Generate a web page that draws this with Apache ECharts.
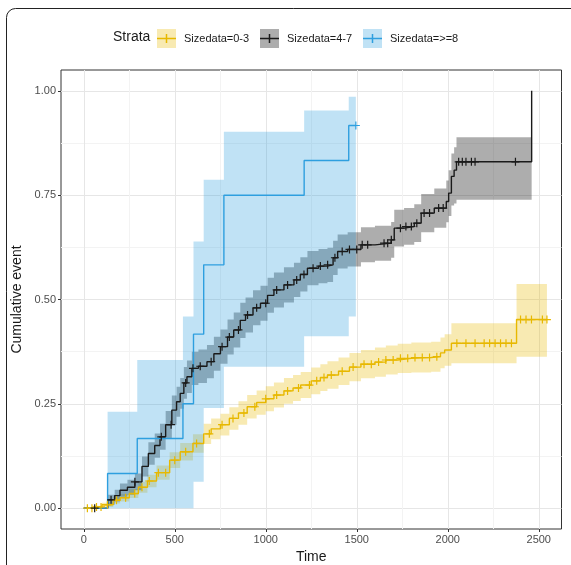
<!DOCTYPE html>
<html>
<head>
<meta charset="utf-8">
<script src="https://cdn.jsdelivr.net/npm/echarts@6/dist/echarts.min.js"></script>
<style>html,body{margin:0;padding:0;background:#fff}#chart{width:571px;height:565px}</style>
</head>
<body>
<div id="chart"></div>
<script>
// ---- data ----
const legendTitle = 'Strata';
const strataNames = ['Sizedata=0-3', 'Sizedata=4-7', 'Sizedata=>=8'];
const xTicks = [0, 500, 1000, 1500, 2000, 2500];
const xMinor = [250, 750, 1250, 1750, 2250];
const yTicks = [0, 0.25, 0.5, 0.75, 1.0];
const yMinor = [0.125, 0.375, 0.625, 0.875];

// Sizedata=0-3 (yellow)
const yellowT = [0, 50, 100, 162, 200, 250, 300, 350, 400, 472, 530, 600, 659, 700, 751, 800, 850, 898, 950, 1000, 1045, 1100, 1150, 1192, 1250, 1300, 1339, 1400, 1460, 1523, 1600, 1660, 1725, 1800, 1909, 1960, 1983, 2020, 2378, 2545];
const yellowV = [0, 0.003, 0.008, 0.019, 0.025, 0.035, 0.05, 0.065, 0.085, 0.115, 0.135, 0.155, 0.178, 0.19, 0.2, 0.215, 0.228, 0.243, 0.253, 0.262, 0.271, 0.281, 0.288, 0.295, 0.305, 0.313, 0.319, 0.328, 0.338, 0.345, 0.35, 0.355, 0.359, 0.361, 0.363, 0.372, 0.379, 0.395, 0.452, 0.452];
const yellowLo = [0, 0, 0.003, 0.011, 0.016, 0.024, 0.037, 0.05, 0.068, 0.096, 0.114, 0.133, 0.154, 0.165, 0.174, 0.188, 0.2, 0.215, 0.224, 0.232, 0.241, 0.25, 0.257, 0.264, 0.273, 0.281, 0.286, 0.295, 0.304, 0.311, 0.315, 0.32, 0.324, 0.325, 0.327, 0.335, 0.341, 0.347, 0.363];
const yellowHi = [0, 0.006, 0.013, 0.027, 0.034, 0.046, 0.063, 0.08, 0.102, 0.134, 0.156, 0.177, 0.202, 0.215, 0.226, 0.242, 0.256, 0.271, 0.282, 0.292, 0.301, 0.312, 0.319, 0.326, 0.337, 0.345, 0.352, 0.361, 0.372, 0.379, 0.385, 0.39, 0.394, 0.397, 0.399, 0.409, 0.417, 0.443, 0.537];
const yellowCensor = [20, 45, 70, 95, 130, 180, 230, 280, 320, 360, 410, 450, 500, 560, 620, 690, 760, 820, 880, 940, 1000, 1060, 1120, 1180, 1240, 1280, 1320, 1360, 1420, 1480, 1540, 1580, 1620, 1660, 1700, 1740, 1780, 1820, 1860, 1900, 1940, 2050, 2100, 2150, 2200, 2230, 2260, 2290, 2320, 2350, 2400, 2430, 2460, 2520, 2545];

// Sizedata=4-7 (black)
const blackT = [0, 132, 170, 199, 240, 281, 320, 355, 390, 419, 450, 484, 510, 530, 550, 567, 594, 630, 677, 715, 751, 790, 824, 860, 889, 930, 971, 1010, 1045, 1100, 1155, 1190, 1229, 1290, 1339, 1370, 1395, 1450, 1523, 1600, 1689, 1706, 1760, 1816, 1854, 1926, 1992, 2005, 2020, 2035, 2048, 2461];
const blackV = [0, 0.02, 0.03, 0.043, 0.05, 0.063, 0.1, 0.131, 0.15, 0.171, 0.2, 0.235, 0.255, 0.275, 0.3, 0.315, 0.335, 0.34, 0.351, 0.37, 0.387, 0.41, 0.427, 0.45, 0.463, 0.48, 0.491, 0.51, 0.523, 0.535, 0.547, 0.56, 0.575, 0.58, 0.583, 0.6, 0.615, 0.62, 0.631, 0.635, 0.643, 0.671, 0.675, 0.683, 0.707, 0.719, 0.735, 0.755, 0.795, 0.81, 0.83, 1.0];
const blackLo = [0, 0.008, 0.016, 0.027, 0.032, 0.043, 0.076, 0.104, 0.121, 0.14, 0.167, 0.2, 0.219, 0.238, 0.262, 0.276, 0.295, 0.3, 0.311, 0.329, 0.346, 0.368, 0.385, 0.408, 0.421, 0.438, 0.449, 0.468, 0.481, 0.493, 0.506, 0.519, 0.534, 0.539, 0.542, 0.559, 0.574, 0.579, 0.589, 0.593, 0.6, 0.627, 0.631, 0.638, 0.661, 0.672, 0.685, 0.7, 0.725, 0.73, 0.739];
const blackHi = [0, 0.032, 0.044, 0.059, 0.068, 0.083, 0.124, 0.158, 0.179, 0.202, 0.233, 0.27, 0.291, 0.312, 0.338, 0.354, 0.375, 0.38, 0.391, 0.411, 0.428, 0.452, 0.469, 0.492, 0.505, 0.522, 0.533, 0.552, 0.565, 0.577, 0.588, 0.601, 0.616, 0.621, 0.624, 0.641, 0.656, 0.661, 0.673, 0.677, 0.686, 0.715, 0.719, 0.728, 0.753, 0.766, 0.785, 0.81, 0.85, 0.865, 0.889];
const blackCensor = [60, 150, 281, 426, 480, 560, 600, 640, 700, 760, 800, 850, 900, 950, 1000, 1060, 1120, 1170, 1210, 1260, 1300, 1340, 1380, 1420, 1460, 1500, 1530, 1560, 1650, 1670, 1690, 1740, 1770, 1800, 1830, 1870, 1900, 1950, 1975, 2060, 2080, 2100, 2130, 2150, 2372];

// Sizedata=>=8 (blue)
const blueT = [0, 131, 294, 545, 603, 659, 770, 1211, 1456, 1495];
const blueV = [0, 0.083, 0.167, 0.25, 0.417, 0.583, 0.75, 0.833, 0.917, 0.917];
const blueLo = [0, 0, 0, 0, 0.063, 0.24, 0.339, 0.412, 0.459];
const blueHi = [0, 0.231, 0.355, 0.459, 0.639, 0.787, 0.902, 0.953, 0.986];
const blueCensor = [1495];

// ---- styles ----
const COLORS = ['#E7B800', '#1a1a1a', '#2E9FDF'];
const BANDS = ['rgba(231,184,0,0.3)', 'rgba(0,0,0,0.32)', 'rgba(46,159,223,0.3)'];
const PLUS = 'path://M-0.75,-5H0.75V-0.75H5V0.75H0.75V5H-0.75V0.75H-5V-0.75H-0.75Z';

function stepValue(T, V, t) {
  let v = V[0];
  for (let i = 0; i < T.length; i++) { if (T[i] <= t) v = V[i]; }
  return v;
}
function band(name, T, lo, hi, color) {
  return {
    type: 'custom', name: name + ' CI', silent: true, z: 1,
    xAxisIndex: 0, yAxisIndex: 0,
    data: [[T[0], lo[0]]],
    renderItem: function (params, api) {
      const pts = [];
      for (let i = 0; i < lo.length; i++) {
        pts.push(api.coord([T[i], hi[i]]), api.coord([T[i + 1], hi[i]]));
      }
      for (let i = lo.length - 1; i >= 0; i--) {
        pts.push(api.coord([T[i + 1], lo[i]]), api.coord([T[i], lo[i]]));
      }
      return { type: 'polygon', shape: { points: pts }, style: { fill: color } };
    }
  };
}
function line(name, T, V, color) {
  return {
    type: 'line', name: name, step: 'end', symbol: 'none', z: 3,
    xAxisIndex: 0, yAxisIndex: 0,
    data: T.map((t, i) => [t, V[i]]),
    lineStyle: { color: color, width: 1.4 }, itemStyle: { color: color },
    silent: true
  };
}
function censor(name, T, V, C, color) {
  return {
    type: 'scatter', name: name + ' censor', z: 4, silent: true,
    xAxisIndex: 0, yAxisIndex: 0,
    symbol: PLUS, symbolSize: 8,
    itemStyle: { color: color, opacity: 1 },
    data: C.map(t => [t, stepValue(T, V, t)])
  };
}

const chart = echarts.init(document.getElementById('chart'), null, { renderer: 'canvas' });

const axisCommonX = { type: 'value', min: -125, max: 2625, gridIndex: 0 };
const axisCommonY = { type: 'value', min: -0.05, max: 1.05, gridIndex: 0 };
const FONT = 'Liberation Sans, Arial, sans-serif';

// legend graphics
const legendItems = [];
legendItems.push({ type: 'text', left: 113, top: 30, style: { text: legendTitle, fontSize: 14, fill: '#1a1a1a', fontFamily: FONT } });
const keyX = [157, 260, 363];
const txtX = [184, 287, 390];
for (let k = 0; k < 3; k++) {
  legendItems.push({ type: 'rect', shape: { x: keyX[k], y: 29, width: 19, height: 19 }, style: { fill: BANDS[k] } });
  legendItems.push({ type: 'line', shape: { x1: keyX[k], y1: 38.5, x2: keyX[k] + 19, y2: 38.5 }, style: { stroke: COLORS[k], lineWidth: 1.5 } });
  legendItems.push({ type: 'line', shape: { x1: keyX[k] + 9.5, y1: 34, x2: keyX[k] + 9.5, y2: 43 }, style: { stroke: COLORS[k], lineWidth: 1.5 } });
  legendItems.push({ type: 'text', left: txtX[k], top: 33, style: { text: strataNames[k], fontSize: 11, fill: '#1a1a1a', fontFamily: FONT } });
}
legendItems.push({ type: 'rect', shape: { x: 6.5, y: 8.5, width: 700, height: 700, r: 9 }, style: { fill: 'none', stroke: '#222', lineWidth: 1 } });

chart.setOption({
  animation: false,
  backgroundColor: '#fff',
  textStyle: { fontFamily: FONT },
  grid: { left: 61, right: 9.5, top: 70, bottom: 36, show: true, borderColor: '#333', borderWidth: 1, backgroundColor: 'transparent', containLabel: false, outerBoundsMode: 'none' },
  xAxis: [
    Object.assign({}, axisCommonX, {
      position: 'bottom', name: 'Time', nameLocation: 'middle', nameGap: 20,
      nameTextStyle: { fontSize: 14, color: '#1a1a1a' },
      axisLine: { show: false, onZero: false },
      axisTick: { show: true, length: 3, lineStyle: { color: '#333' }, customValues: xTicks },
      axisLabel: { customValues: xTicks, color: '#4d4d4d', fontSize: 11, margin: 5, formatter: v => String(v) },
      splitLine: { show: true, lineStyle: { color: '#e6e6e6', width: 1 } }
    }),
    Object.assign({}, axisCommonX, {
      position: 'top', show: true,
      axisLine: { show: false, onZero: false },
      axisTick: { show: false, customValues: xMinor },
      axisLabel: { show: false, customValues: xMinor },
      splitLine: { show: true, lineStyle: { color: '#f3f3f3', width: 1 } }
    })
  ],
  yAxis: [
    Object.assign({}, axisCommonY, {
      position: 'left', name: 'Cumulative event', nameLocation: 'middle', nameGap: 32, nameRotate: 90,
      nameTextStyle: { fontSize: 14, color: '#1a1a1a' },
      axisLine: { show: false, onZero: false },
      axisTick: { show: true, length: 3, lineStyle: { color: '#333' }, customValues: yTicks },
      axisLabel: { customValues: yTicks, color: '#4d4d4d', fontSize: 11, margin: 5, formatter: v => v.toFixed(2) },
      splitLine: { show: true, lineStyle: { color: '#e6e6e6', width: 1 } }
    }),
    Object.assign({}, axisCommonY, {
      position: 'right', show: true,
      axisLine: { show: false, onZero: false },
      axisTick: { show: false, customValues: yMinor },
      axisLabel: { show: false, customValues: yMinor },
      splitLine: { show: true, lineStyle: { color: '#f3f3f3', width: 1 } }
    })
  ],
  graphic: legendItems,
  series: [
    band(strataNames[0], yellowT, yellowLo, yellowHi, BANDS[0]),
    band(strataNames[1], blackT, blackLo, blackHi, BANDS[1]),
    band(strataNames[2], blueT, blueLo, blueHi, BANDS[2]),
    line(strataNames[0], yellowT, yellowV, COLORS[0]),
    line(strataNames[1], blackT, blackV, COLORS[1]),
    line(strataNames[2], blueT, blueV, COLORS[2]),
    censor(strataNames[0], yellowT, yellowV, yellowCensor, COLORS[0]),
    censor(strataNames[1], blackT, blackV, blackCensor, COLORS[1]),
    censor(strataNames[2], blueT, blueV, blueCensor, COLORS[2])
  ]
});
</script>
</body>
</html>
